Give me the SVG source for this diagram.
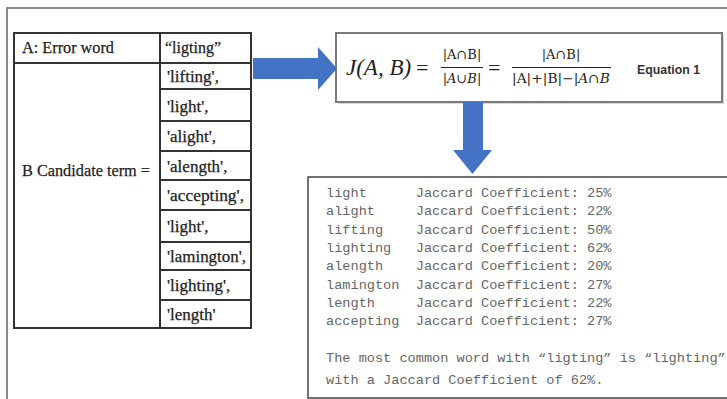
<svg xmlns="http://www.w3.org/2000/svg" width="727" height="399" viewBox="0 0 727 399">
<style>
.tbl{fill:none;stroke:#333;stroke-width:2}
.cell{font-family:"Liberation Serif",serif;font-size:17px;fill:#222;stroke:#222;stroke-width:0.25}
.mono{font-family:"Liberation Mono","Courier New",monospace;font-size:13.6px;fill:#666;white-space:pre}
.math{font-family:"DejaVu Serif","Liberation Serif",serif;font-size:13px;fill:#222}
.arrow{fill:#4472C4}
</style>
<rect x="7" y="8" width="740" height="400" fill="#fff" stroke="#8a8a8a" stroke-width="2"/>

<g id="table">
  <rect class="tbl" x="14" y="33" width="237" height="295"/>
  <line class="tbl" x1="160" y1="33" x2="160" y2="328"/>
  <line class="tbl" x1="14" y1="63" x2="251" y2="63"/>
  <g class="tbl">
    <line x1="160" y1="89" x2="251" y2="89"/>
    <line x1="160" y1="121" x2="251" y2="121"/>
    <line x1="160" y1="151" x2="251" y2="151"/>
    <line x1="160" y1="180" x2="251" y2="180"/>
    <line x1="160" y1="210" x2="251" y2="210"/>
    <line x1="160" y1="242" x2="251" y2="242"/>
    <line x1="160" y1="270" x2="251" y2="270"/>
    <line x1="160" y1="300" x2="251" y2="300"/>
  </g>
  <text class="cell" x="22" y="53" textLength="92" lengthAdjust="spacingAndGlyphs">A: Error word</text>
  <text class="cell" x="165" y="53" textLength="56" lengthAdjust="spacingAndGlyphs">“ligting”</text>
  <text class="cell" x="22" y="176" textLength="128" lengthAdjust="spacingAndGlyphs">B Candidate term  =</text>
  <text class="cell" x="167" y="82">'lifting',</text>
  <text class="cell" x="167" y="112">'light',</text>
  <text class="cell" x="167" y="142">'alight',</text>
  <text class="cell" x="167" y="172">'alength',</text>
  <text class="cell" x="167" y="201" textLength="77" lengthAdjust="spacingAndGlyphs">'accepting',</text>
  <text class="cell" x="167" y="232">'light',</text>
  <text class="cell" x="167" y="262" textLength="79" lengthAdjust="spacingAndGlyphs">'lamington',</text>
  <text class="cell" x="167" y="291">'lighting',</text>
  <text class="cell" x="167" y="320">'length'</text>
</g>

<g id="equation">
  <rect x="338" y="35" width="386" height="69" fill="#d8d8d8"/>
  <rect x="336" y="33" width="386" height="69" fill="#fff" stroke="#7a7a7a" stroke-width="2"/>
  <text x="346" y="75" font-family="Liberation Serif,serif" font-style="italic" font-size="23" fill="#222">J(A, B)</text>
  <text x="416" y="75" font-family="Liberation Serif,serif" font-size="22" fill="#222">=</text>
  <text class="math" x="462" y="59" text-anchor="middle">|A∩B|</text>
  <line x1="441" y1="67.5" x2="483" y2="67.5" stroke="#222" stroke-width="1"/>
  <text class="math" x="462" y="83" text-anchor="middle">|<tspan font-style="italic">A</tspan>∪<tspan font-style="italic">B</tspan>|</text>
  <text x="488" y="75" font-family="Liberation Serif,serif" font-size="22" fill="#222">=</text>
  <text class="math" x="561" y="59" text-anchor="middle">|A∩B|</text>
  <line x1="512" y1="67.5" x2="611" y2="67.5" stroke="#222" stroke-width="1"/>
  <text class="math" x="512" y="83" textLength="98" lengthAdjust="spacingAndGlyphs">|A|+|B|−|<tspan font-style="italic">A</tspan>∩<tspan font-style="italic">B</tspan></text>
  <text x="637" y="74" font-family="Liberation Sans,sans-serif" font-weight="bold" font-size="13.5" fill="#333" textLength="63" lengthAdjust="spacingAndGlyphs">Equation 1</text>
</g>

<g id="output">
  <rect x="308" y="177" width="430" height="221" fill="#fff" stroke="#444" stroke-width="1.5"/>
  <text class="mono" x="326" y="197">light      Jaccard Coefficient: 25%</text>
  <text class="mono" x="326" y="215">alight     Jaccard Coefficient: 22%</text>
  <text class="mono" x="326" y="234">lifting    Jaccard Coefficient: 50%</text>
  <text class="mono" x="326" y="252">lighting   Jaccard Coefficient: 62%</text>
  <text class="mono" x="326" y="270">alength    Jaccard Coefficient: 20%</text>
  <text class="mono" x="326" y="289">lamington  Jaccard Coefficient: 27%</text>
  <text class="mono" x="326" y="307">length     Jaccard Coefficient: 22%</text>
  <text class="mono" x="326" y="325">accepting  Jaccard Coefficient: 27%</text>
  <text class="mono" x="326" y="362">The most common word with “ligting” is “lighting”</text>
  <text class="mono" x="326" y="384">with a Jaccard Coefficient of 62%.</text>
</g>

<g id="connectors">
  <polygon class="arrow" points="253,58 318,58 318,47 337,68.5 318,90 318,79 253,79"/>
  <polygon class="arrow" points="463,102 483,102 483,150 492,150 472.5,174 453,150 463,150"/>
</g>
</svg>
